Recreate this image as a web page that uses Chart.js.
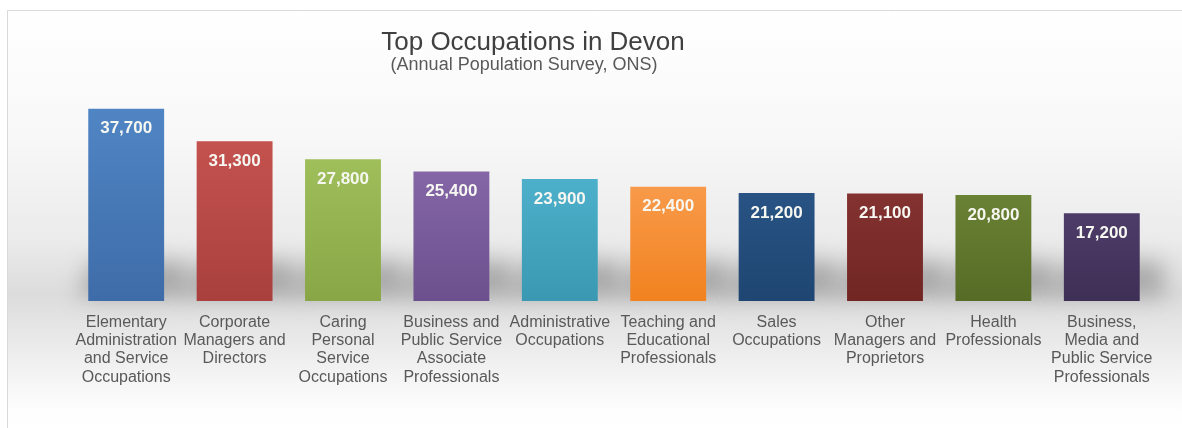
<!DOCTYPE html>
<html>
<head>
<meta charset="utf-8">
<script src="https://cdn.jsdelivr.net/npm/chart.js@4/dist/chart.umd.min.js"></script>
<style>
  html, body { margin: 0; padding: 0; background: #ffffff; }
  #wrap { width: 1182px; height: 428px; position: relative; }
</style>
</head>
<body>
<div id="wrap"><canvas id="c" width="1182" height="428"></canvas></div>
<script>
// ---- data ----
const categories = [
  ["Elementary", "Administration", "and Service", "Occupations"],
  ["Corporate", "Managers and", "Directors"],
  ["Caring", "Personal", "Service", "Occupations"],
  ["Business and", "Public Service", "Associate", "Professionals"],
  ["Administrative", "Occupations"],
  ["Teaching and", "Educational", "Professionals"],
  ["Sales", "Occupations"],
  ["Other", "Managers and", "Proprietors"],
  ["Health", "Professionals"],
  ["Business,", "Media and", "Public Service", "Professionals"]
];
const employment = [37700, 31300, 27800, 25400, 23900, 22400, 21200, 21100, 20800, 17200];
const titleText = "Top Occupations in Devon";
const subtitleText = "(Annual Population Survey, ONS)";

// ---- styles ----
const topColors = ["#5085c4", "#c4524f", "#9fbf5b", "#8466a6", "#4db0ca", "#f89a4a", "#285384", "#833230", "#6a8234", "#4d3c68"];
const bottomColors = ["#3e6ca9", "#a9403d", "#88a645", "#6c508e", "#3a98b2", "#f2821f", "#1f4672", "#712624", "#566b25", "#3e2f56"];

const bgPlugin = {
  id: 'bgPlugin',
  beforeDraw(chart) {
    const ctx = chart.ctx;
    ctx.save();
    ctx.fillStyle = '#ffffff';
    ctx.fillRect(0, 0, chart.width, chart.height);
    const g = ctx.createLinearGradient(0, 10, 0, 428);
    g.addColorStop(0, '#ffffff');
    g.addColorStop(0.3, '#f8f8f8');
    g.addColorStop(0.55, '#ebebeb');
    g.addColorStop(0.68, '#dcdcdc');
    g.addColorStop(0.78, '#e8e8e8');
    g.addColorStop(0.95, '#fdfdfd');
    g.addColorStop(1, '#ffffff');
    ctx.fillStyle = g;
    ctx.fillRect(7, 10, chart.width - 7, chart.height - 10);
    ctx.strokeStyle = '#d9d9d9';
    ctx.lineWidth = 1;
    ctx.beginPath();
    ctx.moveTo(7.5, chart.height);
    ctx.lineTo(7.5, 10.5);
    ctx.lineTo(chart.width, 10.5);
    ctx.stroke();
    // title
    ctx.fillStyle = '#404040';
    ctx.textAlign = 'center';
    ctx.textBaseline = 'alphabetic';
    ctx.font = '26px "Liberation Sans", Arial, sans-serif';
    ctx.fillText(titleText, 533, 50);
    ctx.fillStyle = '#595959';
    ctx.font = '18px "Liberation Sans", Arial, sans-serif';
    ctx.fillText(subtitleText, 524, 70);
    ctx.restore();
  },
  beforeDatasetsDraw(chart) {
    const ctx = chart.ctx;
    const meta = chart.getDatasetMeta(0);
    ctx.save();
    ctx.filter = 'blur(11px)';
    ctx.fillStyle = 'rgba(80,80,80,0.38)';
    meta.data.forEach(el => {
      const p = el.getProps(['x', 'y', 'base', 'width'], true);
      ctx.beginPath();
      ctx.moveTo(p.x - p.width / 2 - 10, p.base - 4);
      ctx.lineTo(p.x - p.width / 2 + 4, p.base - 40);
      ctx.lineTo(p.x + p.width / 2 + 22, p.base - 40);
      ctx.lineTo(p.x + p.width / 2 + 26, p.base - 4);
      ctx.closePath();
      ctx.fill();
    });
    ctx.restore();
  },
  afterDatasetsDraw(chart) {
    const ctx = chart.ctx;
    const meta = chart.getDatasetMeta(0);
    ctx.save();
    ctx.fillStyle = '#f7f7f2';
    ctx.textAlign = 'center';
    ctx.textBaseline = 'middle';
    ctx.font = 'bold 17px "Liberation Sans", Arial, sans-serif';
    meta.data.forEach((el, i) => {
      const p = el.getProps(['x', 'y'], true);
      ctx.fillText(employment[i].toLocaleString('en-GB'), p.x, p.y + 20);
    });
    ctx.restore();
  }
};

const ctx = document.getElementById('c').getContext('2d');
new Chart(ctx, {
  type: 'bar',
  data: {
    labels: categories,
    datasets: [{
      data: employment,
      backgroundColor: (c) => {
        const chart = c.chart;
        const area = chart.chartArea;
        const i = c.dataIndex;
        if (!area || i === undefined) return topColors[i || 0];
        const top = chart.scales.y.getPixelForValue(employment[i]);
        const g = chart.ctx.createLinearGradient(0, top, 0, area.bottom);
        g.addColorStop(0, topColors[i]);
        g.addColorStop(1, bottomColors[i]);
        return g;
      },
      borderWidth: 0,
      categoryPercentage: 0.7,
      barPercentage: 1.0
    }]
  },
  options: {
    responsive: false,
    animation: false,
    devicePixelRatio: 1,
    layout: { padding: { top: 97, left: 72, right: 26, bottom: 0 } },
    plugins: {
      legend: { display: false },
      title: { display: false },
      tooltip: { enabled: false }
    },
    scales: {
      x: {
        grid: { display: false, drawTicks: false },
        border: { display: false },
        ticks: {
          color: '#595959',
          font: { family: '"Liberation Sans", Arial, sans-serif', size: 16, lineHeight: 1.15 },
          padding: 12,
          autoSkip: false,
          maxRotation: 0,
          minRotation: 0
        },
        afterFit(scale) { scale.height = 127; }
      },
      y: {
        display: false,
        min: 0,
        max: 40000
      }
    }
  },
  plugins: [bgPlugin]
});
</script>
</body>
</html>
